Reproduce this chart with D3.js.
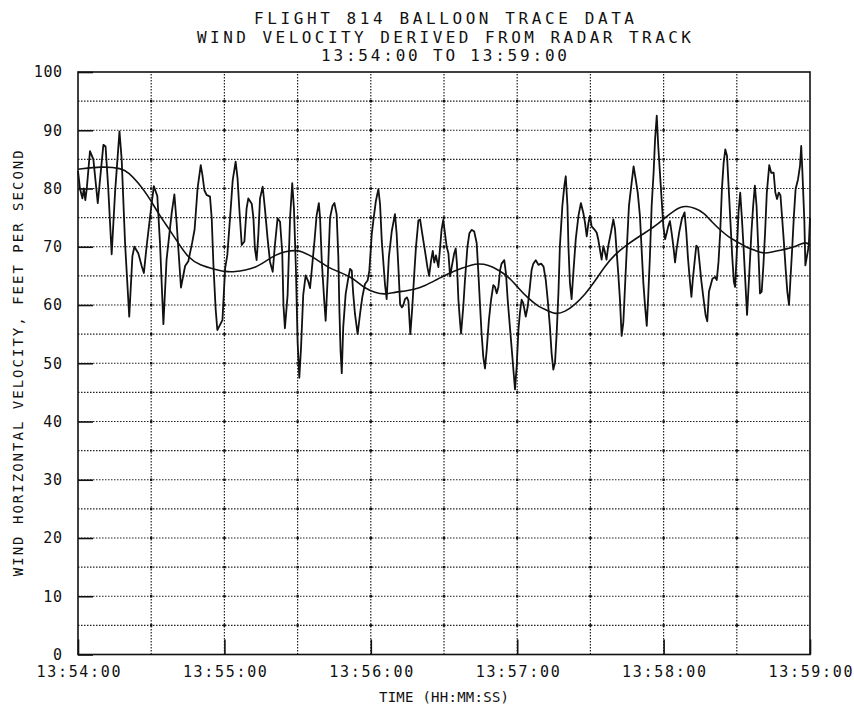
<!DOCTYPE html>
<html>
<head>
<meta charset="utf-8">
<script src="https://cdn.jsdelivr.net/npm/d3@7"></script>
<style>
  html, body { margin: 0; padding: 0; background: #fff; }
  svg { display: block; }
  text { font-family: "DejaVu Sans Mono", "Liberation Mono", monospace; fill: #111; }
</style>
</head>
<body>
<svg id="chart" width="854" height="706"></svg>
<script>
"use strict";

// titles
const titleLines = [
  'FLIGHT 814 BALLOON TRACE DATA',
  'WIND VELOCITY DERIVED FROM RADAR TRACK',
  '13:54:00 TO 13:59:00'
];
const xTitle = 'TIME (HH:MM:SS)';
const yTitle = 'WIND HORIZONTAL VELOCITY, FEET PER SECOND';

// axis ticks (seconds after 13:54:00, feet per second)
const xTickLabels = [ '13:54:00', '13:55:00', '13:56:00', '13:57:00', '13:58:00', '13:59:00' ];
const xTicks      = [ 0, 60, 120, 180, 240, 300 ];
const xGrid       = [ 30, 60, 90, 120, 150, 180, 210, 240, 270 ];
const yTicks      = [ 0, 10, 20, 30, 40, 50, 60, 70, 80, 90, 100 ];
const yGrid       = [ 5, 10, 15, 20, 25, 30, 35, 40, 45, 50, 55, 60, 65, 70, 75, 80, 85, 90, 95 ];

// raw radar trace: time (s after 13:54:00) and velocity (ft/s)
const rawTime = [
  0, 0.8, 1.8, 2.4, 3.0, 3.6, 4.9, 6.3, 8.1, 10.4, 11.3, 12.4, 13.8, 15.2, 17.0, 17.9, 19.3, 21.0, 22.3, 23.1,
  24.7, 26.1, 27.0, 28.1, 30.2, 31.1, 32.5, 33.6, 35.0, 36.3, 38.4, 39.5, 40.4, 42.2, 43.9, 45.2, 46.8, 47.8, 49.0, 50.3,
  51.0, 51.8, 52.7, 54.1, 54.8, 55.5, 56.4, 57.1, 58.2, 59.2, 60.3, 61.2, 62.6, 63.4, 64.6, 65.4, 66.1, 67.1, 68.2, 69.1,
  69.8, 71.2, 71.9, 72.5, 73.2, 73.9, 74.6, 75.7, 76.6, 77.7, 78.7, 79.8, 80.7, 81.8, 82.8, 83.7, 84.2, 84.8, 85.9, 86.9,
  87.8, 88.5, 89.3, 90.0, 90.7, 91.4, 92.3, 93.3, 94.4, 95.1, 96.0, 96.9, 97.8, 98.7, 99.2, 99.9, 101.0, 101.5, 102.4, 103.3,
  104.3, 105.1, 106.0, 106.7, 107.1, 107.6, 108.1, 108.7, 109.7, 110.8, 111.5, 112.2, 112.8, 113.5, 114.6, 115.6, 116.5, 117.6, 118.7, 119.4,
  120.4, 121.2, 122.1, 123.1, 123.8, 124.5, 125.1, 125.8, 126.5, 127.4, 128.6, 129.9, 130.6, 131.3, 132.0, 132.7, 133.3, 134.0, 134.8, 135.4,
  136.2, 137.0, 137.8, 138.5, 139.5, 140.2, 141.1, 142.2, 143.2, 143.9, 144.7, 145.4, 146.0, 146.7, 147.7, 148.4, 149.0, 149.7, 150.4, 151.1,
  151.8, 152.5, 153.4, 154.2, 154.8, 155.3, 155.9, 156.6, 157.0, 157.9, 158.6, 159.6, 160.4, 161.3, 162.4, 163.4, 164.1, 164.8, 165.4, 166.1,
  166.8, 167.5, 168.4, 169.3, 170.2, 170.9, 171.6, 172.3, 173.0, 173.6, 174.7, 175.4, 176.1, 177.0, 178.0, 179.1, 179.8, 180.5, 181.1, 181.8,
  182.5, 183.5, 184.3, 185.2, 185.9, 186.6, 187.6, 188.7, 189.8, 190.8, 191.7, 192.5, 193.4, 194.1, 194.8, 195.5, 196.2, 196.9, 197.5, 198.5,
  199.3, 199.9, 200.6, 201.0, 201.6, 202.3, 203.0, 204.0, 205.1, 206.1, 207.1, 207.8, 208.5, 209.2, 209.8, 210.5, 211.6, 212.6, 213.2, 213.9,
  214.6, 215.3, 216.0, 216.6, 217.3, 218.4, 219.4, 220.1, 220.7, 221.4, 222.1, 222.8, 223.5, 224.2, 224.9, 225.8, 226.9, 227.7, 228.6, 229.4,
  230.3, 231.0, 231.7, 232.4, 233.1, 233.7, 234.4, 235.1, 235.9, 236.5, 237.2, 237.8, 238.5, 239.2, 239.9, 240.6, 241.3, 241.9, 242.6, 243.3,
  244.0, 244.7, 245.3, 246.4, 247.5, 248.6, 249.3, 250.0, 250.7, 251.4, 252.0, 252.7, 253.4, 254.1, 254.7, 255.5, 256.5, 257.2, 257.9, 258.6,
  259.3, 260.0, 261.1, 261.8, 262.5, 263.2, 263.9, 264.6, 265.3, 266.0, 266.7, 267.4, 268.1, 268.8, 269.3, 270.0, 270.7, 271.4, 272.1, 272.8,
  273.5, 274.2, 275.0, 276.0, 276.7, 277.4, 278.1, 278.8, 279.5, 280.2, 280.9, 281.6, 282.3, 283.3, 284.1, 285.1, 285.8, 286.5, 287.2, 287.9,
  288.6, 289.3, 290.0, 290.7, 291.4, 292.0, 292.7, 293.4, 294.1, 295.1, 295.9, 296.4, 296.9, 297.7, 298.1, 298.8, 299.5, 300
];
const rawSpeed = [
  83, 80, 78.3, 80, 78, 80, 86.4, 85, 77.5, 87.5, 87.2, 80, 68.7, 79.4, 89.8, 85, 70.5, 58, 68.4, 70,
  68.9, 66.7, 65.5, 70, 77.5, 80.4, 78.7, 70.7, 56.7, 67.8, 75.8, 79, 74.2, 63, 66.7, 67.5, 70.7, 73, 80, 84,
  82.3, 79.7, 78.9, 78.6, 74.9, 66.9, 59.4, 55.7, 56.6, 57.4, 66.3, 68.6, 76.6, 81.4, 84.6, 81.7, 76.6, 70.3, 70.9, 76.6,
  78.3, 77.4, 74.9, 69.7, 67.7, 72, 78.3, 80.3, 76.6, 71.4, 67.4, 65.7, 70.3, 74.9, 74.3, 69.1, 60, 56, 61.7, 74.9,
  80.9, 76.6, 66.3, 53.7, 47.5, 52.6, 61.7, 65.1, 64, 62.9, 66.9, 70.9, 75.4, 77.5, 75, 67.6, 60.2, 57.3, 65.3, 75,
  77, 77.5, 75.6, 68.2, 59.6, 52.2, 48.3, 56.2, 61.9, 64.7, 66.2, 65.9, 61.9, 58.5, 55, 58.5, 61.3, 63.6, 64.2, 65.9,
  72.2, 75, 77.9, 79.9, 77.3, 71, 67.6, 63.6, 61, 68.2, 72.7, 75.6, 72.2, 66.5, 60.2, 59.6, 59.9, 61, 61.3, 60.7,
  55, 59.6, 65.3, 69.9, 74.5, 74.7, 72.2, 69.3, 66.5, 65, 67.6, 69.3, 67.3, 68.5, 66.5, 69.9, 72.9, 74.6, 72.3, 70,
  68.9, 64.9, 67.1, 68.9, 69.7, 67.1, 60.9, 56.9, 55.1, 59.7, 64.3, 70, 72.3, 72.9, 72.6, 70.6, 65.4, 59.7, 55.1, 51.1,
  49.1, 52.3, 57.4, 60.9, 63.4, 63.1, 62, 63.1, 66, 67.1, 67.7, 65.4, 60.9, 56.3, 51.2, 45.5, 49.5, 55.7, 58.6, 60.9,
  60.3, 58, 59.7, 63.1, 66, 67.1, 67.7, 66.9, 67.1, 66.6, 64.3, 60.9, 56.3, 51.7, 48.9, 50.1, 55.3, 62.1, 70.1, 77,
  80.4, 82.1, 77, 70.1, 63.8, 61, 65.5, 71.3, 75.3, 77.5, 75.8, 74.1, 71.8, 74.1, 75.3, 73.5, 73, 72.4, 71.3, 69.5,
  67.8, 70.1, 69, 67.8, 70.1, 72.4, 74.7, 73, 69.5, 65.5, 61, 54.7, 57, 63.3, 69.5, 77, 81, 83.8, 81.5, 79.3,
  75.3, 69.5, 63.8, 59.8, 56.4, 61.5, 68.4, 77, 82.7, 88.4, 92.5, 87.3, 82.7, 78.1, 73.5, 71.3, 72.4, 73.5, 74.4, 72.4,
  70.1, 67.3, 69.5, 72.5, 74.8, 75.9, 72.5, 68, 64.5, 61.4, 64.5, 67.4, 70.2, 69.9, 67.4, 64, 60.6, 58.3, 57.2, 62.3,
  63.4, 64.5, 64.8, 64.3, 67.4, 72.5, 79.9, 84.4, 86.7, 85.6, 79.9, 74.2, 68.5, 64, 63.1, 69.1, 75.9, 79.3, 74.8, 69.7,
  64, 58.3, 64.5, 72.5, 77, 80.5, 77, 69.7, 62, 62.3, 66.8, 72.5, 79.3, 84, 82.7, 82.7, 79.3, 78.2, 79.3, 78.8,
  74.8, 70.8, 66.3, 62.3, 60, 64.5, 69.7, 75.3, 79.9, 81.6, 83.9, 87.3, 82.7, 74.2, 66.8, 68.5, 70.2, 75
];

// smoothed wind profile
const smoothTime = [
  0, 9.7, 17.9, 20.8, 24.7, 28.8, 32.8, 36.9, 41.0, 45.1, 50.0, 56.3, 60.4, 64.5, 68.6, 72.7, 76.8, 80.9, 85.0, 89.1,
  91.8, 95.2, 99.3, 102.6, 108.1, 112.2, 114.9, 117.6, 121.7, 125.8, 129.9, 134.0, 138.1, 142.2, 146.3, 151.8, 157.2, 161.3, 164.1, 168.2,
  172.3, 176.4, 180.5, 184.6, 188.7, 192.8, 195.5, 199.6, 203.7, 207.8, 211.9, 216.0, 220.1, 224.2, 228.3, 232.4, 236.5, 240.6, 244.7, 246.7,
  249.5, 252.9, 256.4, 259.9, 263.4, 266.9, 270.4, 273.9, 277.4, 280.9, 284.4, 287.9, 291.4, 294.9, 298.4, 300
];
const smoothSpeed = [
  83.3, 83.8, 83.5, 82.7, 81, 78.7, 75.8, 73.3, 70.7, 68.1, 66.8, 66.1, 65.7, 65.7, 66, 66.4, 67.5, 68.6, 69.2, 69.4,
  69.2, 68.5, 67.4, 66.4, 65.5, 64.7, 63.8, 62.9, 62.1, 61.8, 62.2, 62.4, 62.7, 63.3, 64.2, 65.4, 66.3, 66.9, 67.1, 66.9,
  66, 64.9, 62.9, 61.1, 59.7, 59, 58.4, 58.8, 60.1, 61.8, 64.1, 66.7, 68.7, 70.1, 71.3, 72.4, 73.5, 75, 76.3, 76.8,
  77, 76.6, 75.9, 74.2, 72.8, 71.6, 70.8, 69.9, 69.4, 68.8, 69.1, 69.4, 69.7, 70.2, 70.9, 70.2
];

const margin = { top: 72, right: 44, bottom: 51.5, left: 78 };
const width = 854, height = 706;

const svg = d3.select('#chart');

const x = d3.scaleLinear()
            .domain([ 0, 300 ])
            .range([ margin.left, width - margin.right ]);
const y = d3.scaleLinear()
            .domain([ 0, 100 ])
            .range([ height - margin.bottom, margin.top ]);

// dotted grid
const grid = svg.append('g')
                .attr('class', 'grid')
                .attr('stroke', '#222')
                .attr('stroke-width', 1.2)
                .attr('stroke-dasharray', '1.5,1.5');
grid.selectAll('line.h')
    .data(yGrid)
  .enter().append('line')
    .attr('class', 'h')
    .attr('x1', x(0)).attr('x2', x(300))
    .attr('y1', d => y(d)).attr('y2', d => y(d));
grid.selectAll('line.v')
    .data(xGrid)
  .enter().append('line')
    .attr('class', 'v')
    .attr('y1', y(0)).attr('y2', y(100))
    .attr('x1', d => x(d)).attr('x2', d => x(d));

// heavier dots where grid lines cross
svg.append('g')
    .attr('class', 'crossings')
  .selectAll('rect')
    .data(d3.cross(xGrid, yGrid))
  .enter().append('rect')
    .attr('x', d => x(d[0]) - 1.2)
    .attr('y', d => y(d[1]) - 1.2)
    .attr('width', 2.4)
    .attr('height', 2.4)
    .attr('fill', '#111');

// axes: short solid ticks pointing into the frame
const xAxis = d3.axisBottom(x)
                .tickValues(xTicks)
                .tickSizeInner(-15)
                .tickSizeOuter(0)
                .tickPadding(12)
                .tickFormat((d, i) => xTickLabels[i]);
const yAxis = d3.axisLeft(y)
                .tickValues(yTicks)
                .tickSizeInner(-15)
                .tickSizeOuter(0)
                .tickPadding(16)
                .tickFormat(d3.format('d'));

const gx = svg.append('g')
              .attr('transform', `translate(0, ${y(0)})`)
              .call(xAxis);
const gy = svg.append('g')
              .attr('transform', `translate(${x(0)}, 0)`)
              .call(yAxis);

[ gx, gy ].forEach(g => {
  g.select('.domain').remove();
  g.selectAll('.tick line').attr('stroke', '#111').attr('stroke-width', 1.6);
  g.selectAll('.tick text')
    .attr('fill', '#111')
    .attr('lengthAdjust', 'spacing')
    .style('font-family', '"DejaVu Sans Mono", monospace')
    .style('font-size', '15px');
});
gx.selectAll('.tick text').attr('textLength', 84);
gy.selectAll('.tick text').attr('textLength', d => String(d).length * 9.4);

// frame
svg.append('rect')
    .attr('x', x(0))
    .attr('y', y(100))
    .attr('width', x(300) - x(0))
    .attr('height', y(0) - y(100))
    .attr('fill', 'none')
    .attr('stroke', '#111')
    .attr('stroke-width', 1.6);

// the two traces
const line = d3.line()
               .x(d => x(d[0]))
               .y(d => y(d[1]));

svg.append('path')
    .datum(d3.zip(smoothTime, smoothSpeed))
    .attr('d', line.curve(d3.curveBasis))
    .attr('fill', 'none')
    .attr('stroke', '#111')
    .attr('stroke-width', 1.6);

svg.append('path')
    .datum(d3.zip(rawTime, rawSpeed))
    .attr('d', line.curve(d3.curveLinear))
    .attr('fill', 'none')
    .attr('stroke', '#111')
    .attr('stroke-width', 1.8)
    .attr('stroke-linejoin', 'round');

// titles
const titleWidths = [ 380, 494, 246 ];
svg.append('g')
  .selectAll('text')
    .data(titleLines)
  .enter().append('text')
    .attr('x', (x(0) + x(300)) / 2)
    .attr('y', (d, i) => 24 + i * 18.5)
    .attr('text-anchor', 'middle')
    .attr('textLength', (d, i) => titleWidths[i])
    .attr('lengthAdjust', 'spacing')
    .style('font-size', '16px')
    .text(d => d);

svg.append('text')
    .attr('x', (x(0) + x(300)) / 2)
    .attr('y', 702)
    .attr('text-anchor', 'middle')
    .attr('textLength', 130)
    .attr('lengthAdjust', 'spacing')
    .style('font-size', '14px')
    .text(xTitle);

svg.append('text')
    .attr('transform', `translate(23, ${(y(0) + y(100)) / 2}) rotate(-90)`)
    .attr('text-anchor', 'middle')
    .attr('textLength', 426)
    .attr('lengthAdjust', 'spacing')
    .style('font-size', '14px')
    .text(yTitle);
</script>
</body>
</html>
